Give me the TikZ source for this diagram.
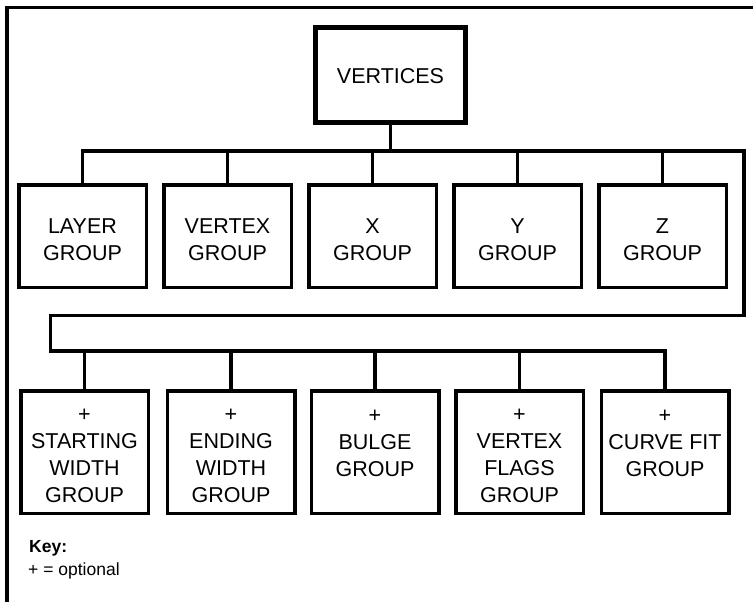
\documentclass[tikz,border=0pt]{standalone}
\usepackage{fontspec}
\setmainfont{Liberation Sans}
\newcommand{\toprow}{\rule{0pt}{23pt}}
\newcommand{\botrow}{\rule{0pt}{21pt}}
\begin{document}
\begin{tikzpicture}[x=1pt,y=-1pt,
  conn/.style={line width=3.5pt,line join=miter},
  topbox/.style={draw,line width=3.5pt,minimum width=127.5pt,minimum height=102.5pt,inner sep=0pt,align=center,font=\fontsize{21.5}{27}\selectfont},
  botbox/.style={draw,line width=3.5pt,minimum width=127.5pt,minimum height=122.5pt,inner sep=0pt,align=center,font=\fontsize{21.5}{27}\selectfont},
  rootbox/.style={draw,line width=5pt,minimum width=150pt,minimum height=95pt,inner sep=0pt,align=center,font=\fontsize{21.5}{27}\selectfont},
  keytext/.style={anchor=base west,inner sep=0pt,font=\fontsize{17.5}{21}\selectfont}]
\useasboundingbox (0,0) rectangle (753,602);
\fill[white] (0,0) rectangle (753,602);
% frame
\coordinate (fr) at (753,7.3);
\coordinate (fc) at (7,7.3);
\coordinate (fb) at (7,602);
\draw[line width=3.5pt] (fr) -- (fc) -- (fb);
% root
\node[rootbox] (v) at (390.5,75) {\rule{0pt}{17pt}VERTICES};
% top row
\node[topbox] (t1) at (82.5,236) {\toprow LAYER\\GROUP};
\node[topbox] (t2) at (227.5,236) {\toprow VERTEX\\GROUP};
\node[topbox] (t3) at (372.5,236) {\toprow X\\GROUP};
\node[topbox] (t4) at (517.5,236) {\toprow Y\\GROUP};
\node[topbox] (t5) at (662.5,236) {\toprow Z\\GROUP};
% bottom row
\node[botbox] (s1) at (84.5,452) {\botrow +\\STARTING\\WIDTH\\GROUP};
\node[botbox] (s2) at (231,452) {\botrow +\\ENDING\\WIDTH\\GROUP};
\node[botbox] (s3) at (375,452) {\botrow +\\BULGE\\GROUP\\\mbox{}};
\node[botbox] (s4) at (519.5,452) {\botrow +\\VERTEX\\FLAGS\\GROUP};
\node[botbox] (s5) at (665,452) {\botrow +\\CURVE FIT\\GROUP\\\mbox{}};
% bus coordinates
\coordinate (b1) at (82.5,151);
\coordinate (br) at (744,151);
\coordinate (c1) at (744,315.5);
\coordinate (c2) at (50.5,315.5);
\coordinate (c3) at (50.5,351);
\coordinate (c4) at (665,351);
% connectors
\draw[conn] (v.south) -- (v.south |- b1);
\draw[conn] (t1.north) -- (b1) -- (br) -- (c1) -- (c2) -- (c3) -- (c4) -- (s5.north);
\foreach \n in {t2,t3,t4,t5} \draw[conn] (\n.north) -- (\n.north |- b1);
\foreach \n in {s1,s2,s3,s4} \draw[conn] (\n.north) -- (\n.north |- c3);
% key
\node[keytext,font=\fontsize{17.5}{21}\selectfont\bfseries] (k1) at (29,552) {Key:};
\node[keytext] (k2) at (28,575) {+ = optional};
\end{tikzpicture}
\end{document}
